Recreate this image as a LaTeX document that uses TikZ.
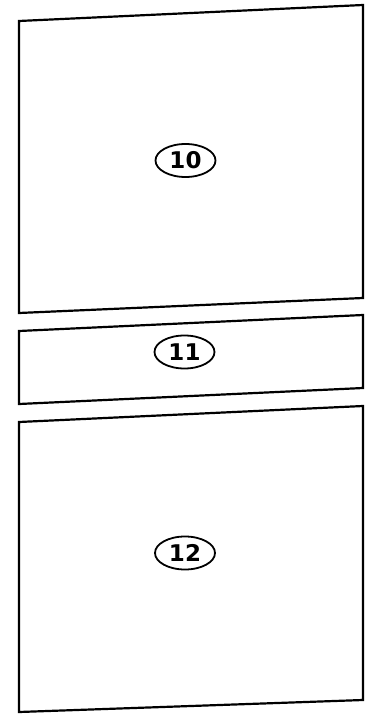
\documentclass[tikz,border=0pt]{standalone}
\usepackage{fontspec}
\setmainfont{DejaVu Sans}
\usetikzlibrary{shapes.geometric}
\begin{document}
\begin{tikzpicture}[x=1pt,y=-1pt,
  panel/.style={draw=black,line width=2.2pt,line join=miter},
  tag/.style={draw=black,line width=1.8pt,ellipse,minimum width=60pt,minimum height=33pt,inner sep=0pt,font=\bfseries\fontsize{23}{23}\selectfont}]
\useasboundingbox (0,0) rectangle (373,714);
\draw[panel] (19,21) -- (363,5) -- (363,298) -- (19,313) -- cycle;
\draw[panel] (19,331) -- (363,315) -- (363,388) -- (19,404) -- cycle;
\draw[panel] (19,422) -- (363,406) -- (363,700) -- (19,712) -- cycle;
\node[tag] (t10) at (185.5,160.5) {10};
\node[tag] (t11) at (184.5,352) {11};
\node[tag] (t12) at (185,553) {12};
\end{tikzpicture}
\end{document}
